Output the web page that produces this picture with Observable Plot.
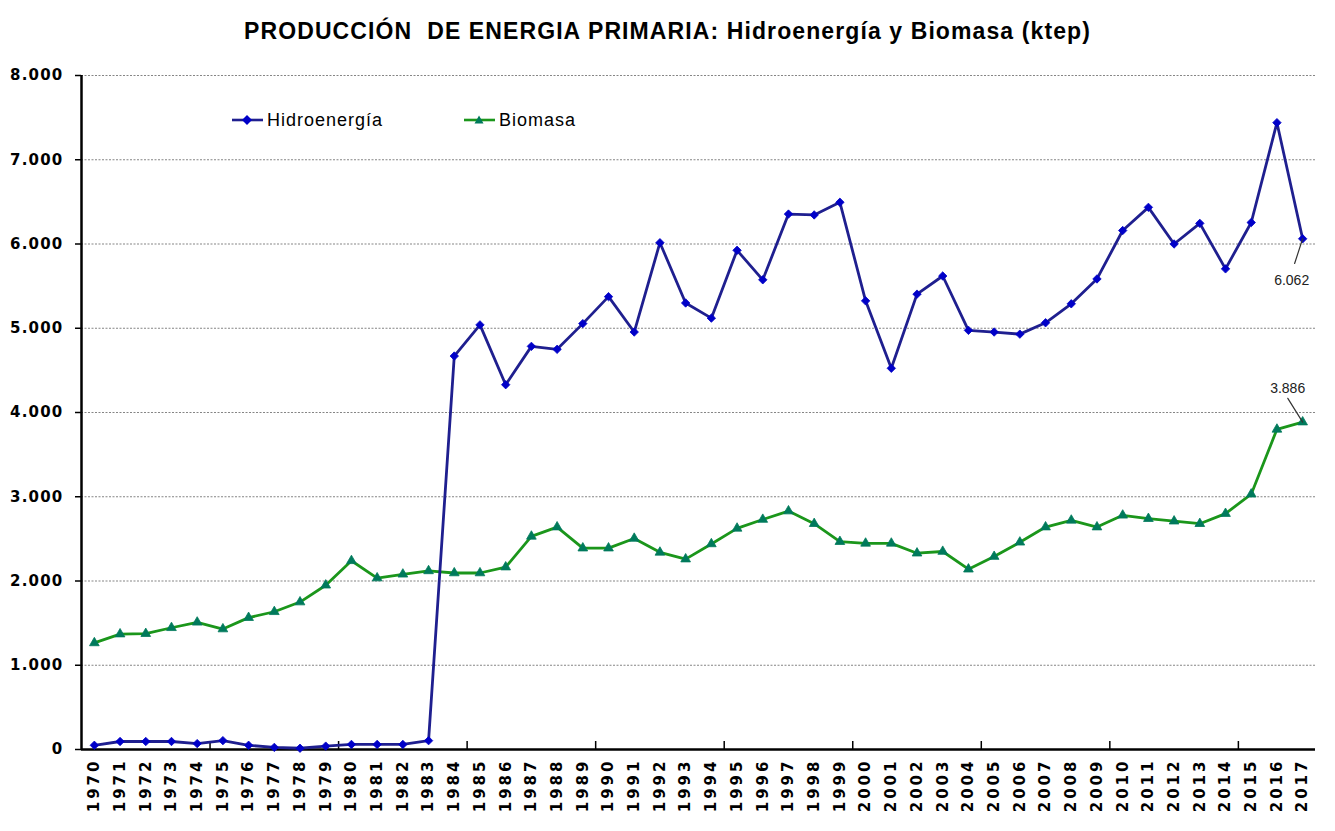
<!DOCTYPE html>
<html><head><meta charset="utf-8">
<script src="https://cdn.jsdelivr.net/npm/d3@7"></script>
<script src="https://cdn.jsdelivr.net/npm/@observablehq/plot@0.6"></script>
<style>
body{margin:0;background:#fff;}
#wrap{position:relative;width:1335px;height:831px;background:#fff;}
#title{height:50px;line-height:62px;text-align:center;font-family:"Liberation Sans",Arial,sans-serif;font-weight:bold;font-size:23px;color:#000;letter-spacing:1.1px;}
#legend{position:absolute;left:230px;top:108px;font-family:"Liberation Sans",Arial,sans-serif;font-size:18px;letter-spacing:1px;color:#000;}
#legend .item{position:absolute;top:0;white-space:nowrap;display:flex;align-items:center;}
#legend svg{margin-right:3px;}
g[aria-label="y-axis tick label"] text{letter-spacing:1.2px;}
g[aria-label="x-axis tick label"] text{letter-spacing:3px;}
</style></head><body>
<div id="wrap">
  <div id="title">PRODUCCIÓN&nbsp; DE ENERGIA PRIMARIA: Hidroenergía y Biomasa (ktep)</div>
  <div id="chart"></div>
  <div id="legend"></div>
</div>
<script>
const years = [1970,1971,1972,1973,1974,1975,1976,1977,1978,1979,1980,1981,1982,1983,1984,1985,1986,1987,1988,1989,1990,1991,1992,1993,1994,1995,1996,1997,1998,1999,2000,2001,2002,2003,2004,2005,2006,2007,2008,2009,2010,2011,2012,2013,2014,2015,2016,2017];
const hidroenergia = [50,95,95,95,70,105,50,25,15,40,60,60,60,105,4670,5040,4330,4785,4750,5055,5375,4955,6015,5300,5120,5925,5575,6355,6345,6495,5325,4525,5405,5620,4975,4955,4930,5065,5290,5585,6160,6435,6000,6245,5705,6255,7440,6062];
const biomasa = [1265,1370,1375,1445,1510,1430,1565,1635,1750,1950,2240,2035,2080,2120,2095,2095,2165,2530,2640,2390,2390,2505,2340,2260,2440,2625,2730,2830,2680,2467,2447,2447,2330,2350,2140,2290,2460,2640,2720,2640,2780,2740,2710,2680,2800,3030,3800,3886];
const yTicks = [0,1000,2000,3000,4000,5000,6000,7000,8000];
const xBoundaryTicks = [1974.5,1979.5,1984.5,1989.5,1994.5,1999.5,2004.5,2009.5,2014.5];
const seriesNames = ["Hidroenergía","Biomasa"];

const hydroLine = "#1f1f8f", hydroMark = "#0000c8";
const bioLine = "#1b961b", bioMark = "#007a5c";

const locale = d3.formatLocale({decimal: ",", thousands: ".", grouping: [3], currency: ["", ""]});
const fmt = locale.format(",d");

const hydroData = years.map((y, i) => ({year: y, value: hidroenergia[i]}));
const bioData = years.map((y, i) => ({year: y, value: biomasa[i]}));
const lastHydro = [hydroData[hydroData.length - 1]];
const lastBio = [bioData[bioData.length - 1]];

const leader = {draw(context, l) { context.moveTo(0, 0); context.lineTo(0, -l); }};

const chart = Plot.plot({
  width: 1335,
  height: 781,
  marginTop: 25,
  marginBottom: 82,
  marginLeft: 81,
  marginRight: 20,
  style: {fontFamily: "DejaVu Sans, sans-serif", background: "#fff", color: "#000"},
  x: {type: "linear", domain: [years[0] - 0.5, years[years.length - 1] + 0.5], label: null},
  y: {domain: [0, 8000], label: null},
  marks: [
    Plot.ruleY(yTicks.slice(1), {stroke: "#858585", strokeWidth: 1.2, strokeDasharray: "2,1.5"}),
    Plot.axisY(yTicks, {label: null, tickSize: 6, tickPadding: 12, tickFormat: fmt, fontSize: 15, fontWeight: "bold", fill: "#000", stroke: "#000", strokeWidth: 1.5}),
    Plot.axisX(years, {label: null, tickSize: 0, tickPadding: 9, tickRotate: -90, tickFormat: d => String(d), fontSize: 15, fontWeight: "bold", fill: "#000"}),
    Plot.axisX(xBoundaryTicks, {label: null, tickSize: -8, tickFormat: () => "", stroke: "#000", strokeWidth: 1.5}),
    Plot.ruleX([years[0] - 0.5], {stroke: "#000", strokeWidth: 2.5}),
    Plot.ruleY([0], {stroke: "#000", strokeWidth: 2.5}),
    Plot.line(bioData, {x: "year", y: "value", stroke: bioLine, strokeWidth: 2.8}),
    Plot.dot(bioData, {x: "year", y: "value", symbol: "triangle", r: 3.6, fill: bioMark, stroke: bioMark, strokeWidth: 0.8}),
    Plot.line(hydroData, {x: "year", y: "value", stroke: hydroLine, strokeWidth: 2.8}),
    Plot.dot(hydroData, {x: "year", y: "value", symbol: "diamond2", r: 3.8, fill: hydroMark, stroke: hydroMark, strokeWidth: 0.8}),
    Plot.vector(lastHydro, {x: "year", y: "value", length: 26, rotate: 198, anchor: "start", shape: leader, stroke: "#333", strokeWidth: 1.2}),
    Plot.text(lastHydro, {x: "year", y: "value", text: d => fmt(d.value), dx: -11, dy: 42, fontSize: 14, fill: "#222", fontFamily: "Liberation Sans, Arial, sans-serif"}),
    Plot.vector(lastBio, {x: "year", y: "value", length: 28, rotate: 328, anchor: "start", shape: leader, stroke: "#333", strokeWidth: 1.2}),
    Plot.text(lastBio, {x: "year", y: "value", text: d => fmt(d.value), dx: -15, dy: -34, fontSize: 14, fill: "#222", fontFamily: "Liberation Sans, Arial, sans-serif"})
  ]
});
document.getElementById("chart").appendChild(chart);

// legend (HTML overlay inside the plot area)
const legend = document.getElementById("legend");
const legendItems = [
  {name: seriesNames[0], line: hydroLine, mark: hydroMark, shape: "diamond", left: 0},
  {name: seriesNames[1], line: bioLine, mark: bioMark, shape: "triangle", left: 232}
];
for (const it of legendItems) {
  const div = document.createElement("div");
  div.className = "item";
  div.style.left = it.left + "px";
  const sym = it.shape === "diamond"
    ? `<path d="M17,7 L22,12 L17,17 L12,12 Z" fill="${it.mark}"/>`
    : `<path d="M17,7.5 L21.5,15.5 L12.5,15.5 Z" fill="${it.mark}"/>`;
  div.innerHTML = `<svg width="34" height="24"><line x1="2" y1="12" x2="33" y2="12" stroke="${it.line}" stroke-width="2.6"/>${sym}</svg><span>${it.name}</span>`;
  legend.appendChild(div);
}
</script>
</body></html>
